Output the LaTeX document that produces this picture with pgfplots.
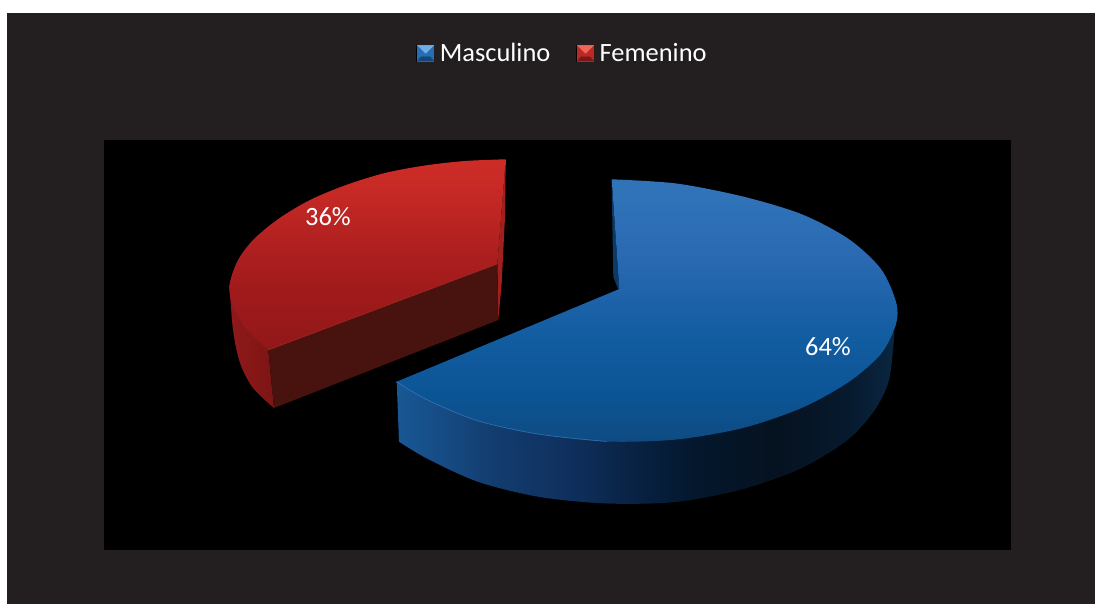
\documentclass[border=0pt]{standalone}
\usepackage{pgfplots}
\pgfplotsset{compat=1.18}
\usepackage{fontspec}
\setmainfont{Carlito}

% Surface gradients of the two slices (bounding box spans 25bp to 75bp)
\pgfdeclareverticalshading{blueTop}{100bp}{
  rgb(0bp)=(0.055,0.294,0.510); rgb(25bp)=(0.055,0.294,0.510);
  rgb(35bp)=(0.047,0.333,0.588); rgb(45bp)=(0.070,0.361,0.631);
  rgb(60bp)=(0.165,0.412,0.698); rgb(72bp)=(0.188,0.451,0.725);
  rgb(75bp)=(0.188,0.451,0.725); rgb(100bp)=(0.188,0.451,0.725)}
\pgfdeclarehorizontalshading{blueSide}{100bp}{
  rgb(0bp)=(0.094,0.345,0.580); rgb(25bp)=(0.094,0.345,0.580);
  rgb(30bp)=(0.086,0.290,0.510); rgb(35bp)=(0.071,0.235,0.430);
  rgb(42bp)=(0.060,0.190,0.370); rgb(48bp)=(0.035,0.140,0.275);
  rgb(55bp)=(0.014,0.090,0.175); rgb(63bp)=(0.020,0.071,0.125);
  rgb(70bp)=(0.027,0.098,0.176); rgb(75bp)=(0.039,0.149,0.255);
  rgb(100bp)=(0.039,0.149,0.255)}
\pgfdeclareverticalshading{redTop}{100bp}{
  rgb(0bp)=(0.569,0.094,0.094); rgb(25bp)=(0.569,0.094,0.094);
  rgb(40bp)=(0.627,0.102,0.106); rgb(52bp)=(0.686,0.125,0.125);
  rgb(68bp)=(0.784,0.165,0.145); rgb(75bp)=(0.804,0.173,0.149);
  rgb(100bp)=(0.804,0.173,0.149)}
\pgfdeclarehorizontalshading{redSide}{100bp}{
  rgb(0bp)=(0.560,0.100,0.100); rgb(25bp)=(0.560,0.100,0.100);
  rgb(50bp)=(0.530,0.090,0.090); rgb(75bp)=(0.480,0.085,0.080);
  rgb(100bp)=(0.480,0.085,0.080)}

\definecolor{frameDark}{RGB}{35,31,32}
\definecolor{redCut}{RGB}{72,18,14}
\definecolor{redSliver}{RGB}{160,32,30}
\definecolor{blueSliver}{RGB}{12,58,102}
\definecolor{blueEdge}{RGB}{58,128,200}
\definecolor{redEdge}{RGB}{190,50,44}
\definecolor{keyBlueA}{RGB}{110,175,230}
\definecolor{keyBlueB}{RGB}{38,110,180}
\definecolor{keyBlueC}{RGB}{20,70,125}
\definecolor{keyRedA}{RGB}{240,100,90}
\definecolor{keyRedB}{RGB}{190,40,36}
\definecolor{keyRedC}{RGB}{125,22,22}

% Four-sided bevelled legend key: #1 top, #2 sides, #3 bottom
\newcommand{\bevelkey}[3]{%
  \fill[black] (0pt,-8pt) rectangle (17pt,8pt);
  \fill[#2] (1pt,-8pt) rectangle (17pt,7.5pt);
  \fill[#1] (1pt,7.5pt) -- (17pt,7.5pt) -- (9pt,-0.5pt) -- cycle;
  \fill[#3] (1pt,-8pt) -- (17pt,-8pt) -- (13.5pt,-4pt) -- (4.5pt,-4pt) -- cycle;
  \path (21pt,0pt);
}

\begin{document}
\begin{tikzpicture}
\begin{axis}[
  scale only axis, width=1095pt, height=604pt,
  xmin=0, xmax=1095, ymin=0, ymax=604, y dir=reverse,
  hide axis, clip=true,
  legend style={at={(0.5137,0.9125)}, anchor=center, draw=none, fill=none,
    text=white, font=\fontsize{26.4}{30}\selectfont, legend columns=2,
    inner sep=0pt, /tikz/every even column/.append style={column sep=24pt}},
]
% page, frame and plot area
\addplot[forget plot, draw=none, fill=white] coordinates {(0,0) (1095,0) (1095,604) (0,604)} --cycle;
\addplot[forget plot, draw=none, fill=frameDark] coordinates {(7,13) (1095,13) (1095,604) (7,604)} --cycle;
\addplot[forget plot, draw=none, fill=black] coordinates {(104,140) (1011,140) (1011,550) (104,550)} --cycle;

% Femenino: outer wall, cut wall, sliver and top face
\addplot[forget plot, draw=none, shade, shading=redSide, smooth] coordinates {
  (229.5,285) (233,330) (240,363) (253,388) (274,408)} -- (268.3,350) -- cycle;
\addplot[forget plot, draw=none, fill=redSliver] coordinates {
  (505.7,159.3) (505,217) (501.7,283) (498.3,320) (497.3,264)} --cycle;
\addplot[forget plot, draw=none, fill=redCut] coordinates {
  (497.3,264) (498.3,320) (274,408) (268.3,350)} --cycle;
\addplot[forget plot, draw=none, shade, shading=redTop, smooth] coordinates {
  (505.7,159.3) (465,161) (425,165.5) (385,173) (346,185) (310,200) (279,218.5)
  (254,239) (238,260) (229.5,285) (233,307) (248,331) (268.3,350)}
  -- (497.3,264) -- cycle;

% Masculino: outer wall, inner sliver and top face
\addplot[forget plot, draw=none, shade, shading=blueSide, smooth] coordinates {
  (399,441.7) (427.8,459) (478.6,482) (539.7,497) (607,503.5) (675.8,502) (741.6,489.5)
  (799.7,469) (846.3,441) (874,411) (889,380) (894.5,332)}
  -- (396.7,381.7) -- cycle;
\addplot[forget plot, draw=none, fill=blueSliver] coordinates {
  (611.6,179.3) (613.3,277) (618.5,290) (619.3,289)} --cycle;
\addplot[forget plot, draw=none, shade, shading=blueTop, smooth] coordinates {
  (611.7,179.3) (676.4,183.5) (742.8,196.5) (801.6,214.2) (848.7,239) (880.9,268.9)
  (896,301.8) (896,324.2) (880.9,354) (848.7,382) (801.6,408) (742.8,428)
  (676.4,439.5) (606.7,441.5) (538.7,434.2) (476.9,420.5) (425.5,399) (396.7,381.7)}
  -- (619.3,289) -- cycle;

% Light edge along the front of the rim
\addplot[forget plot, draw=blueEdge, line width=0.7pt, opacity=0.7, smooth] coordinates {
  (396.7,381.7) (425.5,399) (476.9,420.5) (538.7,434.2) (606.7,441.5)};
\addplot[forget plot, draw=redEdge, line width=0.6pt, opacity=0.6] coordinates {
  (268.3,350) (497.3,264)};

% Percentage labels
\node[text=white, font=\fontsize{26.4}{30}\selectfont] at (axis cs:828,347) {64\%};
\node[text=white, font=\fontsize{26.4}{30}\selectfont] at (axis cs:328,217) {36\%};

% Legend
\addlegendimage{legend image code/.code={\bevelkey{keyBlueA}{keyBlueB}{keyBlueC}}}
\addlegendentry{Masculino}
\addlegendimage{legend image code/.code={\bevelkey{keyRedA}{keyRedB}{keyRedC}}}
\addlegendentry{Femenino}
\end{axis}
\end{tikzpicture}
\end{document}
